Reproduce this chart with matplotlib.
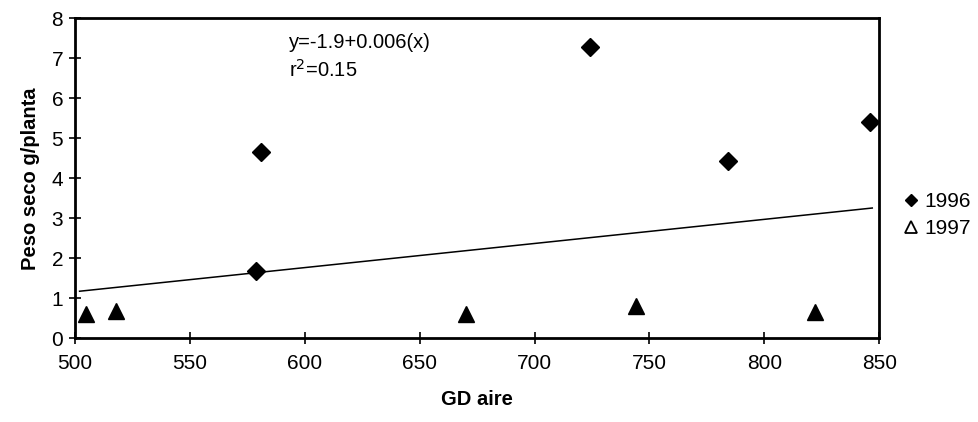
import matplotlib
matplotlib.use("Agg")
import matplotlib.pyplot as plt
from matplotlib.lines import Line2D

plt.rcParams['font.family'] = ['Liberation Sans', 'DejaVu Sans']

# Data
x_1996 = [579, 581, 724, 784, 846]
y_1996 = [1.69, 4.65, 7.28, 4.43, 5.41]
x_1997 = [505, 518, 670, 744, 822]
y_1997 = [0.61, 0.68, 0.61, 0.82, 0.67]
trend_intercept = -1.85
trend_slope = 0.00603
trend_x = [502, 847]
trend_y = [trend_intercept + trend_slope * v for v in trend_x]

xticks = [500, 550, 600, 650, 700, 750, 800, 850]
yticks = [0, 1, 2, 3, 4, 5, 6, 7, 8]

fig = plt.figure(figsize=(9.79, 4.22), dpi=100)
ax = fig.add_axes([0.0766, 0.1983, 0.8214, 0.7583])

ax.plot(trend_x, trend_y, color='black', lw=1.1, zorder=2)
ax.plot(x_1996, y_1996, linestyle='none', marker='D', ms=9.5, color='black', zorder=3)
ax.plot(x_1997, y_1997, linestyle='none', marker='^', ms=11, color='black', zorder=3)

ax.set_xlim(500, 850)
ax.set_ylim(0, 8)
ax.set_xticks(xticks)
ax.set_yticks(yticks)
ax.tick_params(axis='both', direction='inout', length=9, width=1.2, labelsize=15, colors='black')
ax.tick_params(axis='x', pad=7)
ax.tick_params(axis='y', pad=4)
for s in ax.spines.values():
    s.set_linewidth(2)
    s.set_color('black')

ax.set_xlabel('GD aire', fontsize=14.5, fontweight='bold', labelpad=12)
ax.set_ylabel('Peso seco g/planta', fontsize=14.5, fontweight='bold', labelpad=8)

fig.text(289 / 979, 1 - 42 / 422, 'y=-1.9+0.006(x)', fontsize=14.5, va='center', ha='left')
fig.text(289 / 979, 1 - 70 / 422, r'r$^{2}$=0.15', fontsize=14.5, va='center', ha='left')

handles = [
    Line2D([], [], linestyle='none', marker='D', ms=6, color='black'),
    Line2D([], [], linestyle='none', marker='^', ms=9, markerfacecolor='white', markeredgecolor='black', markeredgewidth=1.3),
]
fig.legend(handles, ['1996', '1997'], loc='center left', bbox_to_anchor=(0.924, 0.49), frameon=False,
           fontsize=15, handlelength=0.6, handletextpad=0.35, labelspacing=0.4, borderpad=0, borderaxespad=0)

fig.savefig('out.png', dpi=100)
